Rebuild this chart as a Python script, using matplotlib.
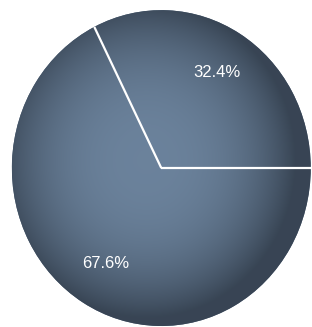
import matplotlib
matplotlib.use("Agg")
import matplotlib.pyplot as plt
import numpy as np

shares = [32.4, 67.6]
labels = ["32.4%", "67.6%"]

BASE = "#50657c"
LIGHT = np.array([0.42, 0.51, 0.61])
DARK = np.array([0.22, 0.27, 0.33])

fig = plt.figure(figsize=(3.12, 3.27), dpi=100)
ax = fig.add_axes([0.038, 0.003, 0.958, 0.966])

wedges, _ = ax.pie(shares, startangle=0, counterclock=True, radius=1,
                   colors=[BASE, BASE], wedgeprops={"edgecolor": "none"})

# soft shading, darker towards the rim, clipped to each wedge
yy, xx = np.mgrid[-1:1:300j, -1:1:300j]
r = np.clip(np.hypot(xx + 0.1, yy - 0.05), 0, 1) ** 2.6
img = LIGHT[None, None, :] * (1 - r[..., None]) + DARK[None, None, :] * r[..., None]
for w in wedges:
    im = ax.imshow(img, extent=(-1, 1, -1, 1), origin="lower", zorder=1.5)
    im.set_clip_path(w)

# white separator lines between slices
edges = np.cumsum([0] + shares[:-1]) / 100 * 2 * np.pi
for a in edges:
    ax.plot([0, np.cos(a)], [0, np.sin(a)], color="white", lw=1.6, zorder=3,
            solid_capstyle="butt")

# percentage labels
mids = (np.cumsum(shares) - np.array(shares) / 2) / 100 * 2 * np.pi
for m, lab in zip(mids, labels):
    ax.text(0.71 * np.cos(m), 0.71 * np.sin(m), lab, color="white",
            fontsize=12, family="Liberation Sans", ha="center", va="center", zorder=4)

ax.set_xlim(-1, 1)
ax.set_ylim(-1, 1)
ax.set_aspect("auto")
ax.axis("off")

fig.savefig("out.png", dpi=100)
